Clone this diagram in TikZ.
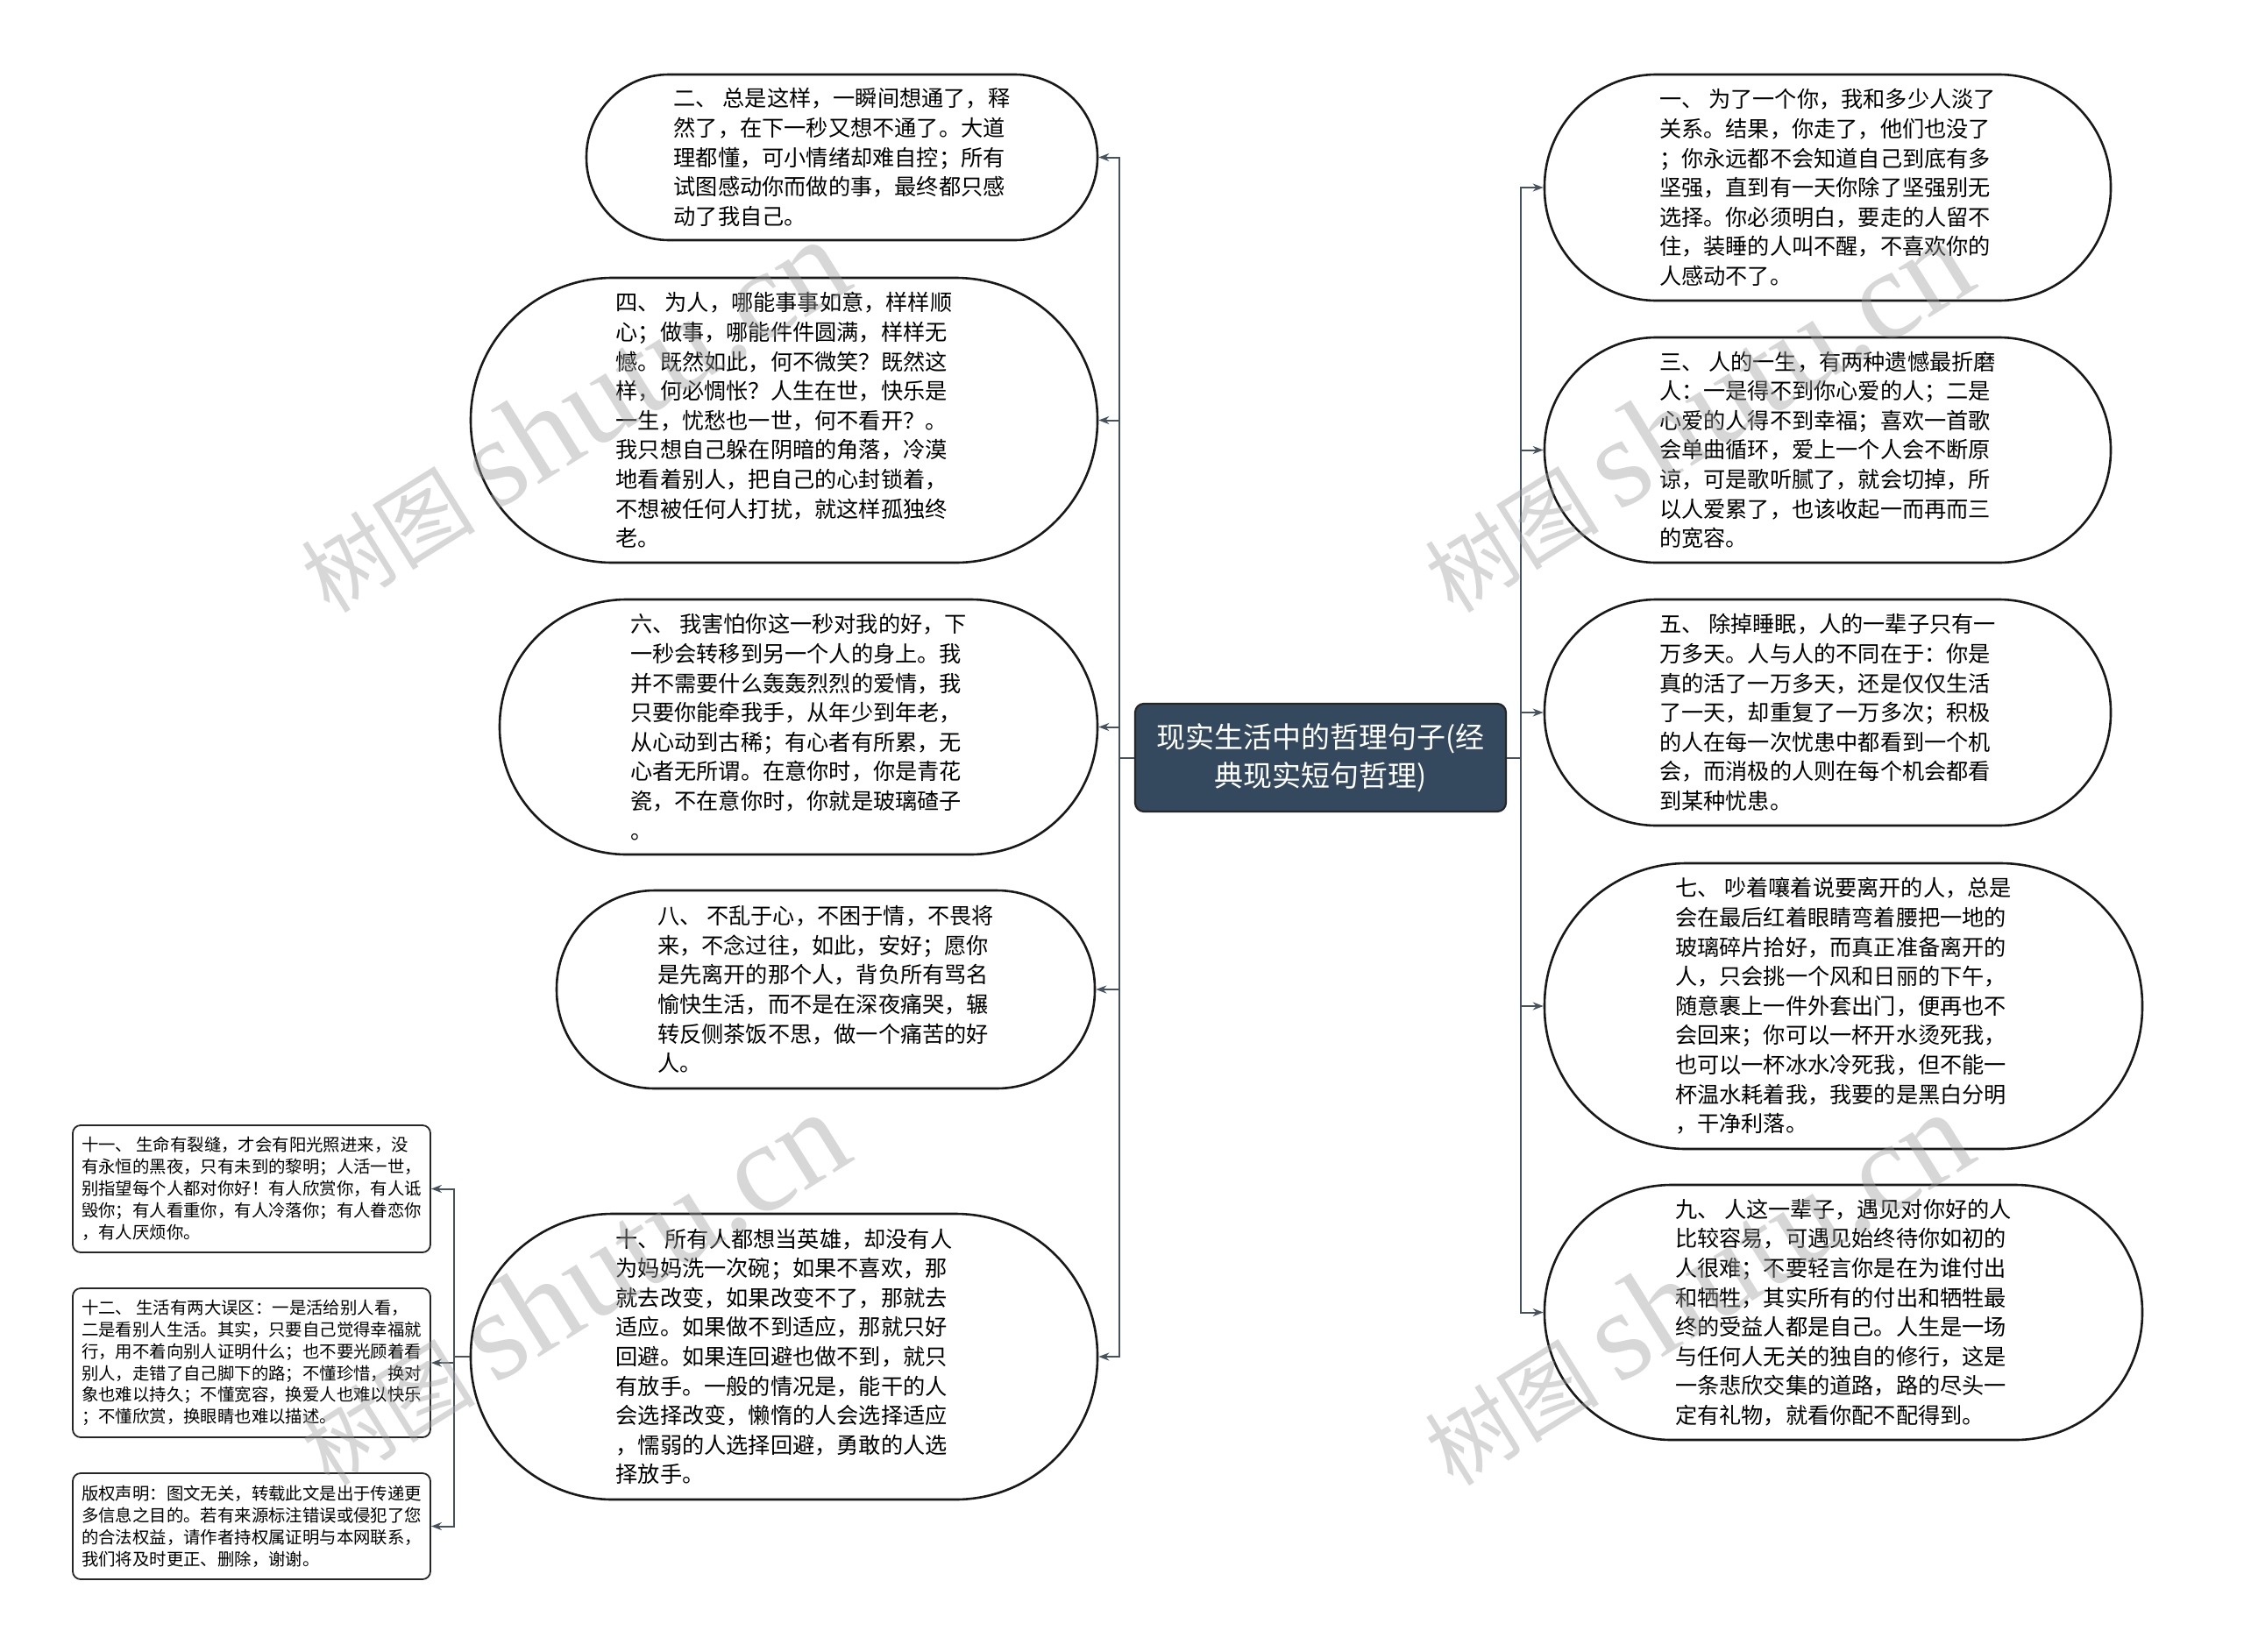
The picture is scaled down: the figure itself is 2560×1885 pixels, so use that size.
\documentclass[tikz,border=0pt]{standalone}
\usepackage{fontspec}
\setmainfont{Noto Sans CJK SC}
\newfontfamily\wmlat{Liberation Serif}
\newfontfamily\wmcjk{Noto Sans CJK SC}
\usetikzlibrary{arrows.meta}
\definecolor{centerfill}{HTML}{34495E}
\definecolor{linkc}{HTML}{46535F}
\definecolor{wmc}{HTML}{A0A0A0}
\begin{document}
\begin{tikzpicture}[x=1pt,y=-1pt,
  pill/.style={draw=black!90, line width=2.6pt, fill=white, align=left, inner sep=0pt,
    font=\fontsize{25.2}{33.6}\selectfont},
  smallbox/.style={draw=black!85, line width=1.8pt, fill=white, align=left, inner sep=0pt,
    rounded corners=9pt, minimum width=408pt, font=\fontsize{19.4}{24.9}\selectfont},
  link/.style={draw=linkc, line width=2pt, -{Stealth[length=12pt,width=9pt]}},
  wmark/.style={text=wmc, text opacity=0.42, rotate=32, anchor=base west, inner sep=0pt}
]
\useasboundingbox (0,0) rectangle (2560,1885);
\fill[white] (0,0) rectangle (2560,1885);

% centre
\node[draw=black!85, fill=centerfill, line width=2.2pt, rounded corners=10pt,
  minimum width=423pt, minimum height=123pt, inner sep=0pt, text=white, align=center,
  font=\fontsize{33}{44}\selectfont] (c) at (1506.5,864.5)
  {现实生活中的哲理句子(经\\典现实短句哲理)};

% left nodes
\node[pill, minimum width=583pt, minimum height=189pt, rounded corners=94pt] (n2) at (960.5,179.5)
{二、 总是这样，一瞬间想通了，释\\然了，在下一秒又想不通了。大道\\理都懂，可小情绪却难自控；所有\\试图感动你而做的事，最终都只感\\动了我自己。};
\node[pill, minimum width=715pt, minimum height=325pt, rounded corners=162pt] (n4) at (894.5,479.5)
{四、 为人，哪能事事如意，样样顺\\心；做事，哪能件件圆满，样样无\\憾。既然如此，何不微笑？既然这\\样，何必惆怅？人生在世，快乐是\\一生，忧愁也一世，何不看开？。\\我只想自己躲在阴暗的角落，冷漠\\地看着别人，把自己的心封锁着，\\不想被任何人打扰，就这样孤独终\\老。};
\node[pill, minimum width=682pt, minimum height=291pt, rounded corners=145pt] (n6) at (911,829.5)
{六、 我害怕你这一秒对我的好，下\\一秒会转移到另一个人的身上。我\\并不需要什么轰轰烈烈的爱情，我\\只要你能牵我手，从年少到年老，\\从心动到古稀；有心者有所累，无\\心者无所谓。在意你时，你是青花\\瓷，不在意你时，你就是玻璃碴子\\。};
\node[pill, minimum width=614pt, minimum height=226pt, rounded corners=112pt] (n8) at (942,1129)
{八、 不乱于心，不困于情，不畏将\\来，不念过往，如此，安好；愿你\\是先离开的那个人，背负所有骂名\\愉快生活，而不是在深夜痛哭，辗\\转反侧茶饭不思，做一个痛苦的好\\人。};
\node[pill, minimum width=715pt, minimum height=326pt, rounded corners=162pt] (n10) at (894.5,1548)
{十、 所有人都想当英雄，却没有人\\为妈妈洗一次碗；如果不喜欢，那\\就去改变，如果改变不了，那就去\\适应。如果做不到适应，那就只好\\回避。如果连回避也做不到，就只\\有放手。一般的情况是，能干的人\\会选择改变，懒惰的人会选择适应\\，懦弱的人选择回避，勇敢的人选\\择放手。};

% right nodes
\node[pill, minimum width=646pt, minimum height=258pt, rounded corners=128pt] (n1) at (2085,214)
{一、 为了一个你，我和多少人淡了\\关系。结果，你走了，他们也没了\\；你永远都不会知道自己到底有多\\坚强，直到有一天你除了坚强别无\\选择。你必须明白，要走的人留不\\住，装睡的人叫不醒，不喜欢你的\\人感动不了。};
\node[pill, minimum width=646pt, minimum height=257pt, rounded corners=128pt] (n3) at (2085,513.5)
{三、 人的一生，有两种遗憾最折磨\\人：一是得不到你心爱的人；二是\\心爱的人得不到幸福；喜欢一首歌\\会单曲循环，爱上一个人会不断原\\谅，可是歌听腻了，就会切掉，所\\以人爱累了，也该收起一而再而三\\的宽容。};
\node[pill, minimum width=646pt, minimum height=258pt, rounded corners=128pt] (n5) at (2085,813)
{五、 除掉睡眠，人的一辈子只有一\\万多天。人与人的不同在于：你是\\真的活了一万多天，还是仅仅生活\\了一天，却重复了一万多次；积极\\的人在每一次忧患中都看到一个机\\会，而消极的人则在每个机会都看\\到某种忧患。};
\node[pill, minimum width=682pt, minimum height=326pt, rounded corners=162pt] (n7) at (2103,1148)
{七、 吵着嚷着说要离开的人，总是\\会在最后红着眼睛弯着腰把一地的\\玻璃碎片拾好，而真正准备离开的\\人，只会挑一个风和日丽的下午，\\随意裹上一件外套出门，便再也不\\会回来；你可以一杯开水烫死我，\\也可以一杯冰水冷死我，但不能一\\杯温水耗着我，我要的是黑白分明\\，干净利落。};
\node[pill, minimum width=682pt, minimum height=291pt, rounded corners=145pt] (n9) at (2103,1497.5)
{九、 人这一辈子，遇见对你好的人\\比较容易，可遇见始终待你如初的\\人很难；不要轻言你是在为谁付出\\和牺牲，其实所有的付出和牺牲最\\终的受益人都是自己。人生是一场\\与任何人无关的独自的修行，这是\\一条悲欣交集的道路，路的尽头一\\定有礼物，就看你配不配得到。};

% small boxes
\node[smallbox, minimum height=145pt] (n11) at (287,1356.5)
{十一、 生命有裂缝，才会有阳光照进来，没\\有永恒的黑夜，只有未到的黎明；人活一世，\\别指望每个人都对你好！有人欣赏你，有人诋\\毁你；有人看重你，有人冷落你；有人眷恋你\\，有人厌烦你。};
\node[smallbox, minimum height=170pt] (n12) at (287,1555)
{十二、 生活有两大误区：一是活给别人看，\\二是看别人生活。其实，只要自己觉得幸福就\\行，用不着向别人证明什么；也不要光顾着看\\别人，走错了自己脚下的路；不懂珍惜，换对\\象也难以持久；不懂宽容，换爱人也难以快乐\\；不懂欣赏，换眼睛也难以描述。};
\node[smallbox, minimum height=121pt] (n13) at (287,1741.5)
{版权声明：图文无关，转载此文是出于传递更\\多信息之目的。若有来源标注错误或侵犯了您\\的合法权益，请作者持权属证明与本网联系，\\我们将及时更正、删除，谢谢。};

% connectors
\coordinate (lj) at ([xshift=-17pt]c.west);
\coordinate (rj) at ([xshift=16pt]c.east);
\coordinate (bj) at ([xshift=-18pt]n10.west);
\foreach \n in {n2,n4,n6,n8,n10} \draw[link] (c.west) -- (lj) |- (\n.east);
\foreach \n in {n1,n3,n5,n7,n9} \draw[link] (c.east) -- (rj) |- (\n.west);
\foreach \n in {n11,n12,n13} \draw[link] (n10.west) -- (bj) |- (\n.east);

% watermarks
\node[wmark] (w1) at (376,702) {\fontsize{100}{100}\wmcjk 树图 \fontsize{145}{145}\wmlat shutu.cn};
\node[wmark] (w2) at (1658,702) {\fontsize{100}{100}\wmcjk 树图 \fontsize{145}{145}\wmlat shutu.cn};
\node[wmark] (w3) at (376,1698) {\fontsize{100}{100}\wmcjk 树图 \fontsize{145}{145}\wmlat shutu.cn};
\node[wmark] (w4) at (1658,1698) {\fontsize{100}{100}\wmcjk 树图 \fontsize{145}{145}\wmlat shutu.cn};
\end{tikzpicture}
\end{document}
